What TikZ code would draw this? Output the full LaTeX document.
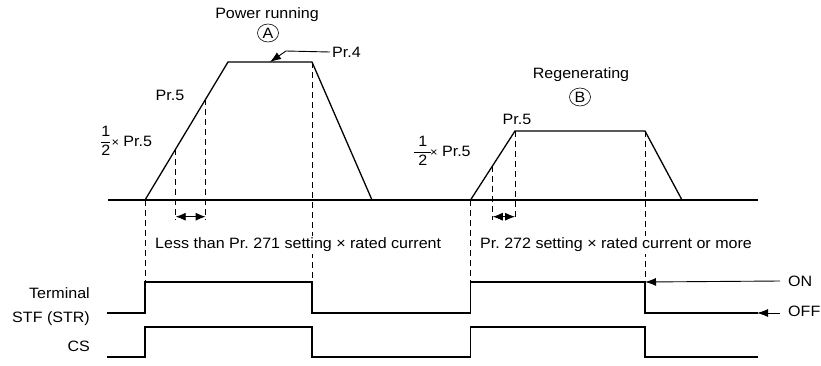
\documentclass[tikz,border=0pt]{standalone}
\usepackage{amsmath}
\usepackage{fontspec}
\setmainfont{Liberation Sans}[FakeStretch=1.07]
\usetikzlibrary{arrows.meta, shapes, calc}

\begin{document}
\begin{tikzpicture}[x=1pt, y=-1pt,
		font=\fontsize{15}{17}\selectfont,
		every node/.style={inner sep=0pt},
		ramp/.style={line width=1.3pt, line join=miter},
		sig/.style={line width=1.8pt},
		guide/.style={dash pattern=on 6pt off 4pt, line width=0.7pt},
		ptr/.style={line width=0.9pt, -{Latex[length=11pt, width=8pt]}},
		dptr/.style={line width=0.9pt, {Latex[length=10pt, width=8pt]}-{Latex[length=10pt, width=8pt]}},
		casemark/.style={draw, ellipse, minimum width=21pt, minimum height=18pt, line width=0.6pt},
		band/.style={fill=white, inner sep=2pt, anchor=west}]
	\useasboundingbox (0,0) rectangle (821,365);
	% Eckpunkte
	\coordinate (a0) at (145,200);
	\coordinate (a1) at (228,62);
	\coordinate (a2) at (312,62);
	\coordinate (a3) at (372,200);
	\coordinate (b0) at (470.5,200);
	\coordinate (b1) at (515,131);
	\coordinate (b2) at (645,131);
	\coordinate (b3) at (682,200);
	\coordinate (ah) at ($(a0)!0.37!(a1)$);
	\coordinate (ap) at ($(a0)!0.73!(a1)$);
	\coordinate (bh) at ($(b0)!0.5!(b1)$);
	\coordinate (tick) at (0,220);
	\coordinate (hi) at (0,282);
	% Hilfslinien
	\foreach \p in {a0,a2,b0,b2} \draw[guide] (\p) -- (\p |- hi);
	\foreach \p in {ah,ap,bh,b1} \draw[guide] (\p) -- (\p |- tick);
	% Achse und Kurven
	\draw[line width=1.6pt] (108,200) -- (758,200);
	\draw[ramp] (a0) -- (a1) -- (a2) -- (a3);
	\draw[ramp] (b0) -- (b1) -- (b2) -- (b3);
	\draw[dptr] ($(ah |- tick)+(0,-3.3)$) -- ($(ap |- tick)+(0,-3.3)$);
	\draw[dptr] ($(bh |- tick)+(0,-3.3)$) -- ($(b1 |- tick)+(0,-3.3)$);
	% Beschriftung oben
	\node (pwr) at (267,15) {Power running};
	\node[casemark] (mA) at (268,33) {A};
	\node[anchor=west] (pr4) at (332,52) {Pr.4};
	\coordinate (pr4knick) at (286,51);
	\coordinate (pr4tip) at (270,62);
	\draw[ptr] ([xshift=-2pt]pr4.west) -- (pr4knick) -- (pr4tip);
	\node (pr5a) at (170,95) {Pr.5};
	\node[anchor=west] (halfa) at (100,141) {$\dfrac{\text{1}}{\text{2}}\mathbin{\text{\large×}}$ Pr.5};
	\node (regen) at (581,75) {Regenerating};
	\node[casemark] (mB) at (580,97) {B};
	\node (pr5b) at (517,119) {Pr.5};
	\node[anchor=west] (halfb) at (413,151) {$\dfrac{\;\text{1}\;}{\;\text{2}\;}\!\text{\large×}$ Pr.5};
	% Strombereiche
	\node[band] (less) at (153,245) {Less than Pr.~271 setting × rated current};
	\node[band] (more) at (478,245) {Pr.~272 setting × rated current or more};
	% Signale
	\foreach \h/\l in {282/313,327/357}
		\draw[sig] (107,\l) -| (145,\h) -| (312,\l) -| (470.5,\h) -| (645,\l) -- (758,\l);
	\node[anchor=east] (term) at (90,293) {Terminal};
	\node[anchor=east] (stf) at (90,319) {STF (STR)};
	\node[anchor=east] (cs) at (90,346) {CS};
	\node[anchor=west] (on) at (788,281) {ON};
	\node[anchor=west] (off) at (788,311) {OFF};
	\coordinate (ontip) at (645,282);
	\coordinate (offtip) at (757,313);
	\draw[ptr] ([xshift=-8pt]on.west) -- (ontip);
	\draw[ptr] ([xshift=-8pt]off.west |- offtip) -- (offtip);
\end{tikzpicture}
\end{document}
